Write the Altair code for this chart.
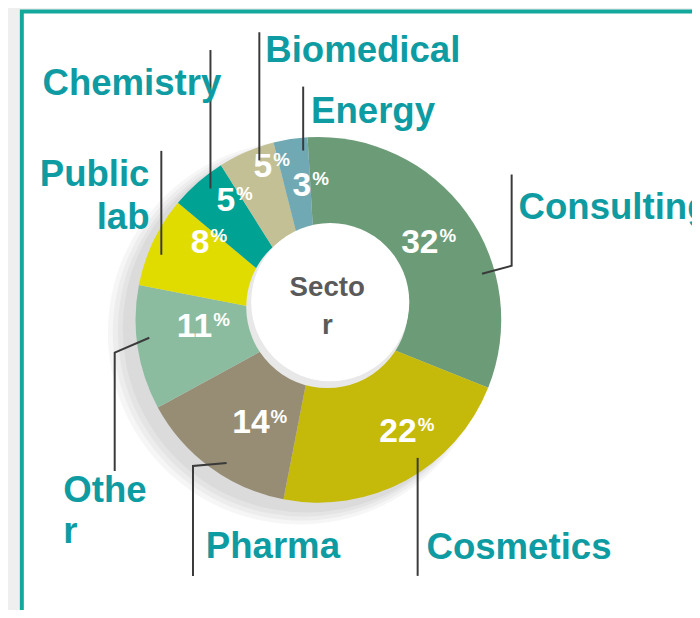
import math
import altair as alt
import pandas as pd

# ---------------- data ----------------
categories = ["Consulting", "Cosmetics", "Pharma", "Other", "Public lab",
              "Chemistry", "Biomedical", "Energy"]
shares = [32, 22, 14, 11, 8, 5, 5, 3]
label_lines = [["Consulting"], ["Cosmetics"], ["Pharma"], ["Othe", "r"],
               ["Public", "lab"], ["Chemistry"], ["Biomedical"], ["Energy"]]
center_title = ["Secto", "r"]

# ---------------- styles / layout ----------------
slice_colors = ["#6c9c77", "#c5b90a", "#978c74", "#8cbca0", "#e1dc00",
                "#00a393", "#c4c095", "#70a9b3"]
# where the in-slice percentage sits: fraction of the slice angle, distance from centre
pct_place = [(0.50, 137), (0.375, 143), (0.38, 119), (0.66, 118),
             (0.86, 137), (0.85, 149), (0.85, 164), (1.0, 138)]
TEAL_TEXT = "#0e9ca2"
TEAL_FRAME = "#12a89c"
LINE_COLOR = "#3a3a3a"
FONT = "Liberation Sans"
NUM_SIZE, SIGN_SIZE, LABEL_SIZE = 34, 19, 37

START = math.radians(-3.4)
R_OUT, R_ANCHOR = 185, 172
HOLE_C, R_HOLE = (9, 13), 82

# call-out layout: where on the slice the leader starts (fraction of the slice
# angle), the knee offset, the vertical end, and the label placement
callouts = {
    "Consulting": dict(frac=0.674, knee=(30, 8), end=147, dx=7, ty=[113], align="left"),
    "Cosmetics":  dict(frac=0.41, knee=(0, 0), end=-259, dx=9, ty=[-231], align="left"),
    "Pharma":     dict(frac=0.43, knee=(-34, -3), end=-259, dx=13, ty=[-230], align="left"),
    "Other":      dict(frac=0.57, knee=(-35, -15), end=-153, dx=-52, ty=[-173, -215], align="left"),
    "Public lab": dict(frac=0.40, knee=(0, 0), end=171, dx=-12, ty=[146, 103], align="right"),
    "Chemistry":  dict(frac=0.60, knee=(0, 0), end=273, dx=11, ty=[239], align="right"),
    "Biomedical": dict(frac=0.66, knee=(0, 0), end=291, dx=6, ty=[272], align="left"),
    "Energy":     dict(frac=0.84, knee=(0, 0), end=236, dx=8, ty=[210], align="left"),
}

# ---------------- derived tables ----------------
pie_df = pd.DataFrame({
    "category": categories,
    "share": shares,
    "idx": list(range(len(categories))),
})

total = sum(shares)
line_rows, label_rows, pct_rows = [], [], []
cum = 0
sign_w = 0.889 * SIGN_SIZE
for i, (cat, v) in enumerate(zip(categories, shares)):
    a0 = START + 2 * math.pi * cum / total
    a1 = START + 2 * math.pi * (cum + v) / total
    cum += v
    # percentage inside the slice: number + superscript sign, centred together
    pf, pr = pct_place[i]
    pa = a0 + pf * (a1 - a0)
    px, py = pr * math.sin(pa), pr * math.cos(pa)
    num_w = len(str(v)) * 0.556 * NUM_SIZE
    split = px + (num_w - sign_w) / 2
    pct_rows.append(dict(category=cat, num=str(v), sign="%",
                         nx=split, sx=split + 1, uy=py))
    # leader line and outside label
    c = callouts[cat]
    a = a0 + c["frac"] * (a1 - a0)
    ax, ay = R_ANCHOR * math.sin(a), R_ANCHOR * math.cos(a)
    kx, ky = ax + c["knee"][0], ay + c["knee"][1]
    for j, (lx, ly) in enumerate([(ax, ay), (kx, ky), (kx, c["end"])]):
        line_rows.append(dict(category=cat, seq=j, ux=lx, uy=ly))
    for txt, ty in zip(label_lines[i], c["ty"]):
        label_rows.append(dict(category=cat, text=txt, ux=kx + c["dx"], uy=ty,
                               align=c["align"]))
pct_df = pd.DataFrame(pct_rows)
lines_df = pd.DataFrame(line_rows)
labels_df = pd.DataFrame(label_rows)
title_df = pd.DataFrame({
    "text": center_title,
    "ux": [HOLE_C[0]] * len(center_title),
    "uy": [HOLE_C[1] + 19 - 38 * k for k in range(len(center_title))],
})

# ---------------- chart ----------------
xs = alt.Scale(domain=[-200, 200], nice=False, zero=False)
ys = alt.Scale(domain=[-200, 200], nice=False, zero=False)
X = lambda f: alt.X(f, type="quantitative", scale=xs, axis=None)
Y = lambda f: alt.Y(f, type="quantitative", scale=ys, axis=None)


def disc(r):
    # Vega circle symbols: radius = sqrt(size) / 2
    return (2 * r) ** 2


theta = alt.Theta("share:Q", stack=True,
                  scale=alt.Scale(range=[START, START + 2 * math.pi]))
order = alt.Order("idx:Q")
color = alt.Color("category:N", scale=alt.Scale(domain=categories, range=slice_colors),
                  legend=None)

one = pd.DataFrame({"k": [0]})
frame = alt.Chart(one).mark_rect(fill="white", stroke=TEAL_FRAME, strokeWidth=4).encode(
    x=alt.value(-100), x2=alt.value(720), y=alt.value(-112), y2=alt.value(600))

shadows = []
for extra, (ox, oy) in [(9, (-19, -13)), (6, (-17, -12)), (3, (-15, -11)), (1, (-12, -9))]:
    shadows.append(
        alt.Chart(pd.DataFrame({"ux": [ox], "uy": [oy]})).mark_circle(
            size=disc(R_OUT + extra), color="#000000", opacity=0.035).encode(
            x=X("ux"), y=Y("uy")))

pie = alt.Chart(pie_df).mark_arc(radius=R_OUT).encode(theta=theta, color=color, order=order)

hole_df = pd.DataFrame({"ux": [HOLE_C[0]], "uy": [HOLE_C[1]]})
hole_shade = alt.Chart(hole_df).mark_circle(
    size=disc(R_HOLE), color="#e8e8e8", opacity=1).encode(x=X("ux"), y=Y("uy"))
hole = alt.Chart(pd.DataFrame({"ux": [HOLE_C[0] + 3], "uy": [HOLE_C[1] + 5]})).mark_circle(
    size=disc(R_HOLE - 2), color="white", opacity=1).encode(x=X("ux"), y=Y("uy"))

pct_num = alt.Chart(pct_df).mark_text(
    align="right", baseline="alphabetic", dy=12,
    font=FONT, fontSize=NUM_SIZE, fontWeight="bold", color="white").encode(
    x=X("nx"), y=Y("uy"), text="num:N")
pct_sign = alt.Chart(pct_df).mark_text(
    align="left", baseline="alphabetic", dy=1,
    font=FONT, fontSize=SIGN_SIZE, fontWeight="bold", color="white").encode(
    x=X("sx"), y=Y("uy"), text="sign:N")

leaders = alt.Chart(lines_df).mark_line(color=LINE_COLOR, strokeWidth=2).encode(
    x=X("ux"), y=Y("uy"), detail="category:N", order=alt.Order("seq:Q"))

lab_left = alt.Chart(labels_df[labels_df["align"] == "left"]).mark_text(
    align="left", baseline="middle", font=FONT, fontSize=LABEL_SIZE, fontWeight="bold",
    color=TEAL_TEXT).encode(x=X("ux"), y=Y("uy"), text="text:N")
lab_right = alt.Chart(labels_df[labels_df["align"] == "right"]).mark_text(
    align="right", baseline="middle", font=FONT, fontSize=LABEL_SIZE, fontWeight="bold",
    color=TEAL_TEXT).encode(x=X("ux"), y=Y("uy"), text="text:N")

title = alt.Chart(title_df).mark_text(
    align="center", baseline="middle", font=FONT, fontSize=28, fontWeight="bold",
    color="#5a5a5a").encode(x=X("ux"), y=Y("uy"), text="text:N")

chart = alt.layer(
    frame, *shadows, pie, hole_shade, hole, pct_num, pct_sign, leaders,
    lab_left, lab_right, title
).properties(
    width=400, height=400,
    padding={"left": 114, "top": 112, "right": 178, "bottom": 90},
    autosize=alt.AutoSizeParams(type="none"),
    background="#efefef",
).configure_view(stroke=None)

chart.save("out.html", embed_options={"renderer": "svg", "actions": False})
